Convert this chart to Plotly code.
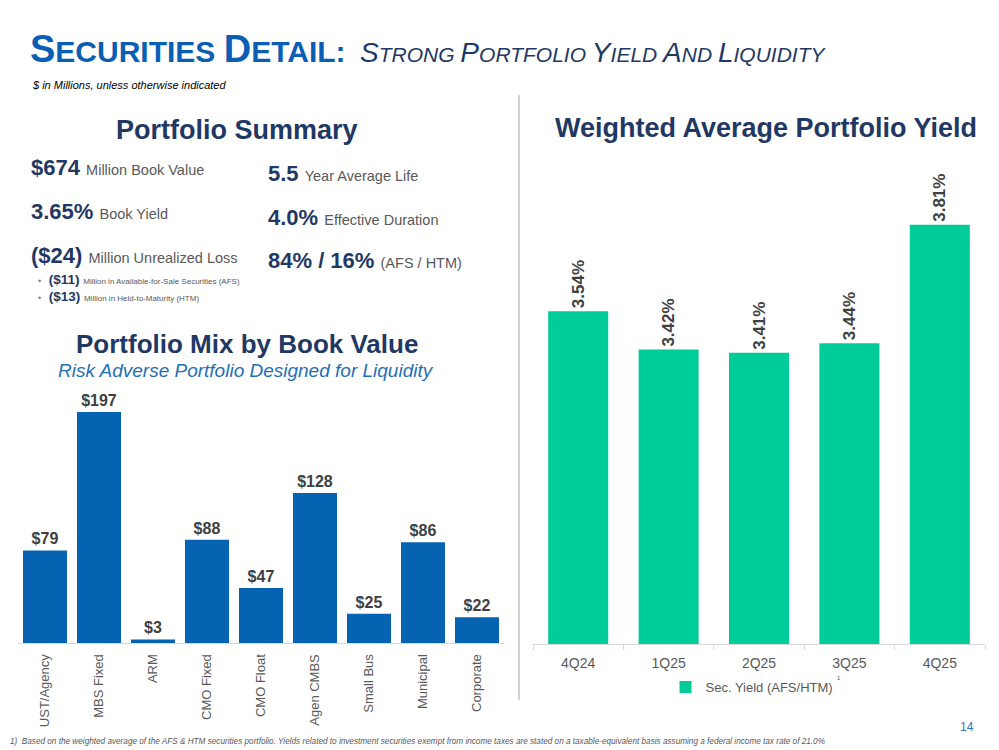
import plotly.graph_objects as go

W, H = 999, 750
FONT = "Arial, Liberation Sans, sans-serif"
NAVY = "#1F3864"
GRAY = "#595959"
DARK = "#404040"
BLUE_BAR = "#0563B1"
GREEN_BAR = "#00CC99"
TITLE_BLUE = "#0A5FB4"

# ---- data ----
mix_categories = ["UST/Agency", "MBS Fixed", "ARM", "CMO Fixed", "CMO Float",
                  "Agen CMBS", "Small Bus", "Municipal", "Corporate"]
mix_values = [79, 197, 3, 88, 47, 128, 25, 86, 22]
mix_labels = ["$79", "$197", "$3", "$88", "$47", "$128", "$25", "$86", "$22"]

yield_quarters = ["4Q24", "1Q25", "2Q25", "3Q25", "4Q25"]
yield_values = [3.54, 3.42, 3.41, 3.44, 3.81]
yield_labels = ["3.54%", "3.42%", "3.41%", "3.44%", "3.81%"]
yield_series_name = "Sec. Yield (AFS/HTM)"


def px(x):
    return x / W


def py(y):
    return 1 - y / H


fig = go.Figure()

fig.add_trace(go.Bar(
    x=mix_categories, y=mix_values, text=mix_labels,
    textposition="outside", cliponaxis=False, constraintext="none",
    textfont=dict(family=FONT, size=16, color=DARK, weight="bold"),
    marker=dict(color=BLUE_BAR, line=dict(width=0)),
    xaxis="x", yaxis="y", showlegend=False, hoverinfo="skip",
))

fig.add_trace(go.Bar(
    x=yield_quarters, y=yield_values, text=yield_labels, name=yield_series_name,
    textposition="outside", textangle=-90, cliponaxis=False, constraintext="none",
    textfont=dict(family=FONT, size=17, color=DARK, weight="bold"),
    marker=dict(color=GREEN_BAR, line=dict(width=0)),
    xaxis="x2", yaxis="y2", showlegend=True, hoverinfo="skip",
    width=0.664,
))

fig.update_layout(
    width=W, height=H,
    margin=dict(l=0, r=0, t=0, b=0),
    paper_bgcolor="white", plot_bgcolor="white",
    font=dict(family=FONT, color=GRAY),
    bargap=0.185,
    xaxis=dict(domain=[px(18), px(504)], showline=True, linecolor="#D9D9D9",
               linewidth=1, ticks="", tickangle=-90, ticklabelstandoff=5,
               tickfont=dict(family=FONT, size=13, color=GRAY),
               showgrid=False, zeroline=False, anchor="y"),
    yaxis=dict(domain=[py(643), py(391)], range=[0, 215], visible=False,
               anchor="x"),
    xaxis2=dict(domain=[px(533), px(985)], showline=True, linecolor="#D9D9D9",
                linewidth=1, ticks="outside", tickson="boundaries", ticklen=5,
                tickcolor="#D9D9D9", ticklabelstandoff=6,
                tickfont=dict(family=FONT, size=14, color=GRAY),
                showgrid=False, zeroline=False, anchor="y2"),
    yaxis2=dict(domain=[py(644), py(164)], range=[2.5, 4.0], visible=False,
                anchor="x2"),
    legend=dict(orientation="h", x=px(752), xanchor="center", y=py(687),
                yanchor="middle", font=dict(family=FONT, size=13, color=GRAY),
                bgcolor="rgba(0,0,0,0)"),
)

ann = []


def add(text, x, y, size, color, xanchor="left", yanchor="middle", **kw):
    ann.append(dict(text=text, x=px(x), y=py(y), xref="paper", yref="paper",
                    xanchor=xanchor, yanchor=yanchor, showarrow=False,
                    font=dict(family=FONT, size=size, color=color), **kw))


def sc(big, small, bs, ss):
    return (f"<span style='font-size:{bs}px'>{big}</span>"
            f"<span style='font-size:{ss}px'>{small}</span>")


title_main = "<b>" + sc("S", "ECURITIES ", 38, 30) + sc("D", "ETAIL:", 38, 30) + "</b>"
title_sub = "<i>" + " ".join([sc("S", "TRONG", 28, 21), sc("P", "ORTFOLIO", 28, 21),
                              sc("Y", "IELD", 28, 21), sc("A", "ND", 28, 21),
                              sc("L", "IQUIDITY", 28, 21)]) + "</i>"
add(title_main, 28, 49, 30, TITLE_BLUE)
add(title_sub, 358, 52, 21, NAVY)
add("<i>$ in Millions, unless otherwise indicated</i>", 30, 85, 11, "#000000")

# Portfolio summary
add("<b>Portfolio Summary</b>", 237, 130, 27, NAVY, xanchor="center")


def item(val, desc):
    return f"<b>{val}</b> <span style='font-size:14.5px;color:{GRAY}'>{desc}</span>"


add(item("$674", "Million Book Value"), 29, 168, 22, NAVY)
add(item("3.65%", "Book Yield"), 29, 212, 22, NAVY)
add(item("($24)", "Million Unrealized Loss"), 29, 256, 22, NAVY)
add(item("5.5", "Year Average Life"), 266, 173, 22, NAVY)
add(item("4.0%", "Effective Duration"), 266, 217, 22, NAVY)
add(item("84% / 16%", "(AFS / HTM)"), 266, 260, 22, NAVY)


def bullet(val, desc):
    return (f"<span style='font-size:9px;color:#7F7F7F'>•</span>  <b>{val}</b> "
            f"<span style='font-size:8px;color:{GRAY}'>{desc}</span>")


add(bullet("($11)", "Million in Available-for-Sale Securities (AFS)"), 36, 279, 13.5, NAVY)
add(bullet("($13)", "Million in Held-to-Maturity (HTM)"), 36, 296, 13.5, NAVY)

# Portfolio mix headings
add("<b>Portfolio Mix by Book Value</b>", 247, 344, 26, NAVY, xanchor="center")
add("<i>Risk Adverse Portfolio Designed for Liquidity</i>", 246, 371, 19, "#1F6FB5",
    xanchor="center")

# Right heading
add("<b>Weighted Average Portfolio Yield</b>", 766, 128, 27, NAVY, xanchor="center")

# legend superscript
add("1", 835, 678, 6, GRAY)

# page number and footnote
add("14", 967, 727, 12, "#2E75B6", xanchor="center")
add("<i>1)  Based on the weighted average of the AFS &amp; HTM securities portfolio. Yields related to "
    "investment securities exempt from income taxes are stated on a taxable-equivalent basis "
    "assuming a federal income tax rate of 21.0%</i>", 8, 741, 8.2, GRAY)

fig.update_layout(annotations=ann)

# divider line
fig.add_shape(type="line", xref="paper", yref="paper", x0=px(519), x1=px(519),
              y0=py(95), y1=py(700), line=dict(color="#A6A6A6", width=1))

fig.write_html("out.html")
